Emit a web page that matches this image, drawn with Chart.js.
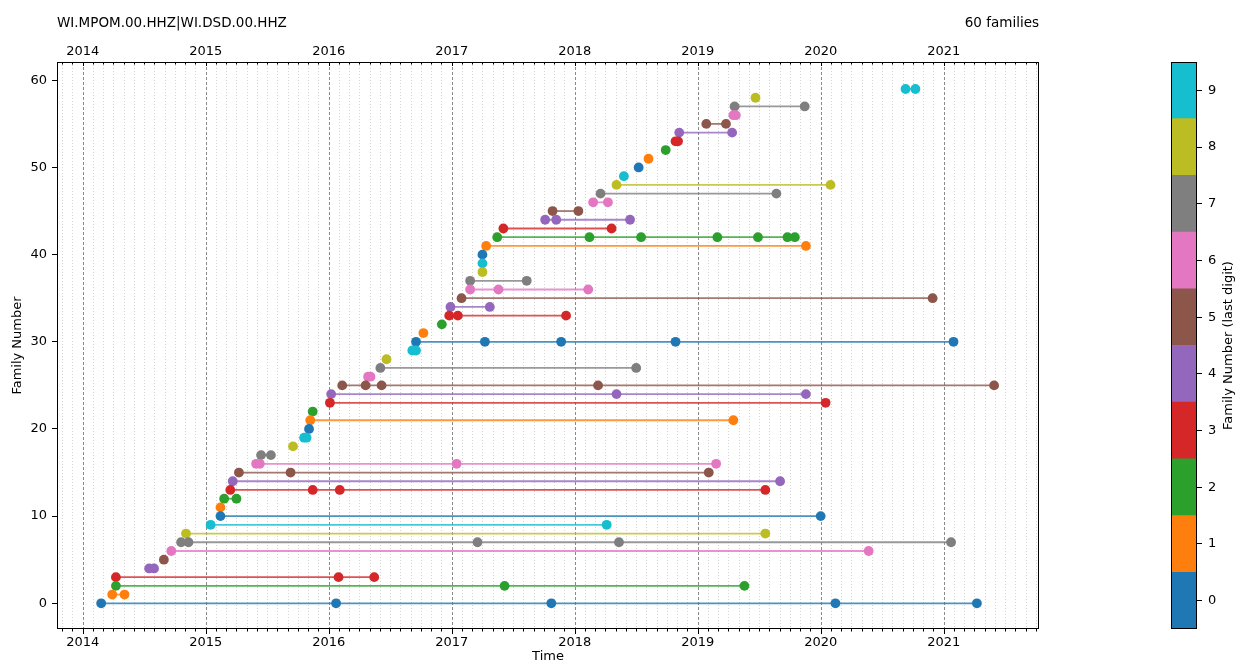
<!DOCTYPE html>
<html>
<head>
<meta charset="utf-8">
<script src="https://cdn.jsdelivr.net/npm/chart.js@4.4.0/dist/chart.umd.min.js"></script>
<style>
  html, body { margin: 0; padding: 0; background: #fff; }
  #main { position: absolute; left: 0; top: 0; }
  #cbar { position: absolute; left: 1160px; top: 0; }
</style>
</head>
<body>
<canvas id="main" width="1236" height="664"></canvas>
<canvas id="cbar" width="76" height="664"></canvas>
<script>
// Text
var stationTitle = "WI.MPOM.00.HHZ|WI.DSD.00.HHZ";
var familyCountLabel = "60 families";

// tab10, indexed by last digit of the family number
var palette = ["#1f77b4", "#ff7f0e", "#2ca02c", "#d62728", "#9467bd",
               "#8c564b", "#e377c2", "#7f7f7f", "#bcbd22", "#17becf"];

// Event times (decimal years) for each family, index = family number
var familyTimes = [
  [2014.15, 2016.06, 2017.81, 2020.12, 2021.27],   // 0
  [2014.24, 2014.34],
  [2014.27, 2017.43, 2019.38],
  [2014.27, 2016.08, 2016.37],
  [2014.54, 2014.58],
  [2014.66],                                        // 5
  [2014.72, 2020.39],
  [2014.80, 2014.86, 2017.21, 2018.36, 2021.06],
  [2014.84, 2019.55],
  [2015.04, 2018.26],
  [2015.12, 2020.00],                               // 10
  [2015.12],
  [2015.15, 2015.25],
  [2015.20, 2015.87, 2016.09, 2019.55],
  [2015.22, 2019.67],
  [2015.27, 2015.69, 2019.09],                      // 15
  [2015.41, 2015.44, 2017.04, 2019.15],
  [2015.45, 2015.53],
  [2015.71],
  [2015.80, 2015.82],
  [2015.84],                                        // 20
  [2015.85, 2019.29],
  [2015.87],
  [2016.01, 2020.04],
  [2016.02, 2018.34, 2019.88],
  [2016.11, 2016.30, 2016.43, 2018.19, 2021.41],    // 25
  [2016.32, 2016.34],
  [2016.42, 2018.50],
  [2016.47],
  [2016.68, 2016.71],
  [2016.71, 2017.27, 2017.89, 2018.82, 2021.08],    // 30
  [2016.77],
  [2016.92],
  [2016.98, 2017.05, 2017.93],
  [2016.99, 2017.31],
  [2017.08, 2020.91],                               // 35
  [2017.15, 2017.38, 2018.11],
  [2017.15, 2017.61],
  [2017.25],
  [2017.25],
  [2017.25],                                        // 40
  [2017.28, 2019.88],
  [2017.37, 2018.12, 2018.54, 2019.16, 2019.49, 2019.73, 2019.79],
  [2017.42, 2018.30],
  [2017.76, 2017.85, 2018.45],
  [2017.82, 2018.03],                               // 45
  [2018.15, 2018.27],
  [2018.21, 2019.64],
  [2018.34, 2020.08],
  [2018.40],
  [2018.52],                                        // 50
  [2018.60],
  [2018.74],
  [2018.82, 2018.84],
  [2018.85, 2019.28],
  [2019.07, 2019.23],                               // 55
  [2019.29, 2019.31],
  [2019.30, 2019.87],
  [2019.47],
  [2020.69, 2020.77]
];

var yearTicks = [2014, 2015, 2016, 2017, 2018, 2019, 2020, 2021];
var familyTicks = [0, 10, 20, 30, 40, 50, 60];
var digitLabels = [0, 1, 2, 3, 4, 5, 6, 7, 8, 9];

var xMin = 2013.791, xMax = 2021.775;

// monthly minor ticks inside the axis range
var monthTicks = [];
for (var yr = 2013; yr <= 2022; yr++) {
  for (var m = 0; m < 12; m++) {
    var v = yr + m / 12;
    if (v >= xMin && v <= xMax) monthTicks.push(v);
  }
}
function isYear(v) { return Math.abs(v - Math.round(v)) < 1e-6; }

function withAlpha(hex, a) {
  var r = parseInt(hex.slice(1, 3), 16), g = parseInt(hex.slice(3, 5), 16), b = parseInt(hex.slice(5, 7), 16);
  return "rgba(" + r + "," + g + "," + b + "," + a + ")";
}

Chart.defaults.font.family = "'DejaVu Sans', sans-serif";
Chart.defaults.font.size = 13;
Chart.defaults.color = "#000";

var datasets = familyTimes.map(function (times, fam) {
  var c = palette[fam % 10];
  return {
    data: times.map(function (t) { return { x: t, y: fam }; }),
    showLine: true,
    borderColor: withAlpha(c, 0.8),
    borderWidth: 1.8,
    pointBackgroundColor: c,
    pointBorderWidth: 0,
    pointRadius: 4.9,
    pointHoverRadius: 4.9
  };
});

// dotted month lines, dashed year lines, box, inner ticks on top, header texts
var decorPlugin = {
  id: "decor",
  beforeDatasetsDraw: function (chart) {
    var ctx = chart.ctx, a = chart.chartArea, xs = chart.scales.x;
    ctx.save();
    monthTicks.forEach(function (v) {
      var px = Math.round(xs.getPixelForValue(v)) + 0.5;
      ctx.beginPath();
      if (isYear(v)) {
        ctx.strokeStyle = "#8a8a8a"; ctx.lineWidth = 1; ctx.setLineDash([3, 2]);
      } else {
        ctx.strokeStyle = "#d4d4d4"; ctx.lineWidth = 1; ctx.setLineDash([1, 2]);
      }
      ctx.moveTo(px, a.top); ctx.lineTo(px, a.bottom); ctx.stroke();
    });
    ctx.restore();
  },
  afterDraw: function (chart) {
    var ctx = chart.ctx, a = chart.chartArea, xs = chart.scales.x;
    ctx.save();
    ctx.strokeStyle = "#000"; ctx.lineWidth = 1; ctx.setLineDash([]);
    ctx.strokeRect(Math.round(a.left) + 0.5, Math.round(a.top) + 0.5,
                   Math.round(a.right - a.left) - 1, Math.round(a.bottom - a.top) - 1);
    monthTicks.forEach(function (v) {
      var px = Math.round(xs.getPixelForValue(v)) + 0.5;
      var major = isYear(v);
      ctx.beginPath();
      ctx.moveTo(px, a.bottom); ctx.lineTo(px, a.bottom + (major ? 5 : 2.5));
      ctx.moveTo(px, a.top); ctx.lineTo(px, a.top + (major ? 4 : 2.5));
      ctx.stroke();
    });
    ctx.fillStyle = "#000";
    ctx.font = "13.5px 'DejaVu Sans', sans-serif";
    ctx.textBaseline = "alphabetic";
    ctx.textAlign = "left";
    ctx.fillText(stationTitle, a.left, 27);
    ctx.textAlign = "right";
    ctx.fillText(familyCountLabel, a.right, 27);
    ctx.restore();
  }
};

var xAxisBase = function (pos, boxHeight, pad) {
  return {
    type: "linear",
    position: pos,
    min: xMin,
    max: xMax,
    afterBuildTicks: function (s) { s.ticks = monthTicks.map(function (v) { return { value: v }; }); },
    afterFit: function (s) { s.height = boxHeight; },
    ticks: {
      autoSkip: false,
      maxRotation: 0,
      padding: pad,
      callback: function (v) { return isYear(v) && yearTicks.indexOf(Math.round(v)) >= 0 ? String(Math.round(v)) : ""; }
    },
    grid: { drawOnChartArea: false, drawTicks: false },
    border: { display: false }
  };
};

var xBottom = xAxisBase("bottom", 35, 6);
xBottom.title = { display: true, text: "Time", padding: { top: 0, bottom: 0 } };
var xTop = xAxisBase("top", 62, 3);

new Chart(document.getElementById("main"), {
  type: "scatter",
  data: { datasets: datasets },
  options: {
    responsive: false,
    animation: false,
    events: [],
    layout: { padding: { left: 0, right: 197, top: 0, bottom: 0 } },
    plugins: { legend: { display: false }, tooltip: { enabled: false } },
    scales: {
      x: xBottom,
      x2: xTop,
      y: {
        type: "linear",
        min: -2.95,
        max: 62.1,
        afterBuildTicks: function (s) { s.ticks = familyTicks.map(function (v) { return { value: v }; }); },
        afterFit: function (s) { s.width = 57; },
        ticks: { padding: 5 },
        grid: { drawOnChartArea: false, tickLength: 5, tickColor: "#000" },
        border: { display: false },
        title: { display: true, text: "Family Number", padding: { top: 10, bottom: 0 } }
      }
    }
  },
  plugins: [decorPlugin]
});

// colour bar
var cbarPlugin = {
  id: "cbarDecor",
  afterDraw: function (chart) {
    var ctx = chart.ctx, a = chart.chartArea;
    ctx.save();
    ctx.strokeStyle = "#000"; ctx.lineWidth = 1;
    ctx.strokeRect(Math.round(a.left) + 0.5, Math.round(a.top) + 0.5,
                   Math.round(a.right - a.left) - 1, Math.round(a.bottom - a.top) - 1);
    ctx.translate(69, (a.top + a.bottom) / 2);
    ctx.rotate(-Math.PI / 2);
    ctx.fillStyle = "#000";
    ctx.font = "13px 'DejaVu Sans', sans-serif";
    ctx.textAlign = "center";
    ctx.textBaseline = "middle";
    ctx.fillText("Family Number (last digit)", 0, 0);
    ctx.restore();
  }
};

new Chart(document.getElementById("cbar"), {
  type: "bar",
  data: {
    labels: [""],
    datasets: digitLabels.map(function (d) {
      return { data: [1], backgroundColor: palette[d], borderWidth: 0, barPercentage: 1, categoryPercentage: 1 };
    })
  },
  options: {
    responsive: false,
    animation: false,
    events: [],
    layout: { padding: { left: 11, right: 0, top: 62, bottom: 35 } },
    plugins: { legend: { display: false }, tooltip: { enabled: false } },
    scales: {
      x: { display: false, stacked: true },
      y: {
        stacked: true,
        position: "right",
        min: 0,
        max: 10,
        afterBuildTicks: function (s) { s.ticks = digitLabels.map(function (d) { return { value: d + 0.5 }; }); },
        afterFit: function (s) { s.width = 39; },
        ticks: { padding: 6, callback: function (v, i) { return String(digitLabels[i]); } },
        grid: { drawOnChartArea: false, tickLength: 5, tickColor: "#000" },
        border: { display: false }
      }
    }
  },
  plugins: [cbarPlugin]
});
</script>
</body>
</html>
